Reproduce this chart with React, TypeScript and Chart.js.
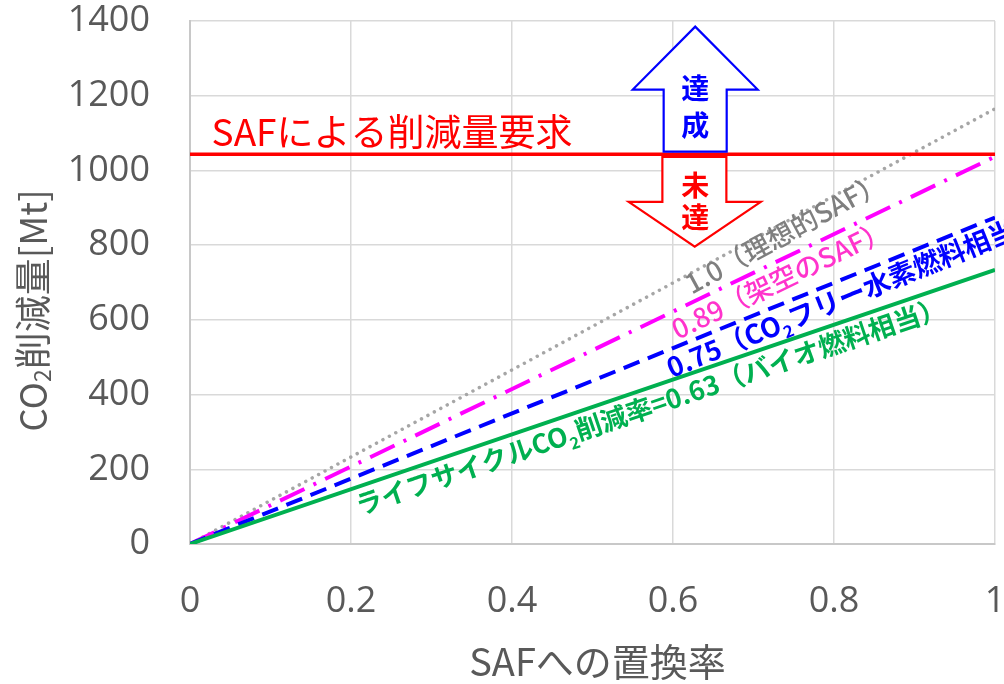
import React, { useEffect, useRef } from "react";
import { Chart, registerables } from "chart.js";

Chart.register(...registerables);

// ---- data ----
const xValues = [0, 1];
const idealSAF = [0, 1165]; // 1.0 (理想的SAF)
const fictionalSAF = [0, 1037]; // 0.89 (架空のSAF)
const hydrogenFuel = [0, 874]; // 0.75 (CO2フリー水素燃料相当)
const bioFuel = [0, 734]; // 0.63 (バイオ燃料相当)
const requirement = [1043, 1043]; // SAFによる削減量要求
const xTicks = [0, 0.2, 0.4, 0.6, 0.8, 1];
const xTickLabels = ["0", "0.2", "0.4", "0.6", "0.8", "1"];
const yTicks = [0, 200, 400, 600, 800, 1000, 1200, 1400];
const yTickLabels = ["0", "200", "400", "600", "800", "1000", "1200", "1400"];

const X_TITLE = "SAFへの置換率";
const Y_TITLE = [{ t: "CO" }, { t: "2", sub: true }, { t: "削減量[Mt]" }];
const REQ_LABEL = "SAFによる削減量要求";

// annotation geometry in data units
const upArrow = [
  [0.6276, 1385], [0.7052, 1216.5], [0.6667, 1216.5], [0.6667, 1050.6],
  [0.5884, 1050.6], [0.5884, 1216.5], [0.55, 1216.5],
];
const downArrow = [
  [0.5868, 1036], [0.6663, 1036], [0.6663, 916], [0.709, 916],
  [0.627, 796], [0.545, 916], [0.5868, 916],
];

const CJK = "'Noto Sans CJK JP', 'Noto Sans', sans-serif";
const NUM = "'Open Sans', 'Noto Sans CJK JP', sans-serif";
const AXIS_COLOR = "#595959";

type Seg = { t: string; sub?: boolean };

function drawRich(
  ctx: CanvasRenderingContext2D,
  segs: Seg[],
  x: number,
  y: number,
  size: number,
  weight: string,
  color: string,
  align: "left" | "center"
) {
  const fontFor = (s: Seg) => `${weight} ${s.sub ? size * 0.62 : size}px ${CJK}`;
  let total = 0;
  for (const s of segs) {
    ctx.font = fontFor(s);
    total += ctx.measureText(s.t).width;
  }
  let cx = align === "center" ? x - total / 2 : x;
  ctx.fillStyle = color;
  ctx.textAlign = "left";
  for (const s of segs) {
    ctx.font = fontFor(s);
    ctx.fillText(s.t, cx, y + (s.sub ? size * 0.24 : 0));
    cx += ctx.measureText(s.t).width;
  }
}

const lineLabels = [
  { segs: [{ t: "1.0（理想的SAF）" }], series: idealSAF, at: [0.6232, 667], color: "#7f7f7f", weight: "500", size: 27 },
  { segs: [{ t: "0.89（架空のSAF）" }], series: fictionalSAF, at: [0.6058, 546], color: "#ff33cc", weight: "500", size: 27 },
  {
    segs: [{ t: "0.75（CO" }, { t: "2", sub: true }, { t: "フリー水素燃料相当）" }],
    series: hydrogenFuel, at: [0.5983, 444], color: "#0000ff", weight: "bold", size: 27,
  },
  {
    segs: [{ t: "ライフサイクルCO" }, { t: "2", sub: true }, { t: "削減率=0.63（バイオ燃料相当）" }],
    series: bioFuel, at: [0.2108, 76], color: "#00b050", weight: "bold", size: 26.5,
  },
];

const annotationPlugin = {
  id: "annotations",
  afterDatasetsDraw(chart: any) {
    const ctx: CanvasRenderingContext2D = chart.ctx;
    const xs = chart.scales.x;
    const ys = chart.scales.y;
    const px = (v: number) => xs.getPixelForValue(v);
    const py = (v: number) => ys.getPixelForValue(v);

    ctx.save();
    const poly = (pts: number[][], color: string) => {
      ctx.beginPath();
      pts.forEach((p, i) => (i === 0 ? ctx.moveTo(px(p[0]), py(p[1])) : ctx.lineTo(px(p[0]), py(p[1]))));
      ctx.closePath();
      ctx.fillStyle = "#ffffff";
      ctx.fill();
      ctx.lineWidth = 2.2;
      ctx.lineJoin = "miter";
      ctx.strokeStyle = color;
      ctx.stroke();
    };
    poly(upArrow, "#0000ff");
    poly(downArrow, "#ff0000");

    ctx.textBaseline = "middle";
    ctx.textAlign = "center";
    ctx.font = `bold 28px ${CJK}`;
    ctx.fillStyle = "#0000ff";
    ctx.fillText("達", px(0.6276), py(1220));
    ctx.fillText("成", px(0.6276), py(1121));
    ctx.fillStyle = "#ff0000";
    ctx.fillText("未", px(0.6276), py(961));
    ctx.fillText("達", px(0.6276), py(875));

    ctx.textBaseline = "alphabetic";
    ctx.textAlign = "left";
    ctx.font = `normal 37px ${CJK}`;
    ctx.fillStyle = "#ff0000";
    ctx.fillText(REQ_LABEL, px(0.0268), py(1065));

    for (const l of lineLabels) {
      const ang = Math.atan2(py(l.series[1]) - py(l.series[0]), px(xValues[1]) - px(xValues[0]));
      ctx.save();
      ctx.translate(px(l.at[0]), py(l.at[1]));
      ctx.rotate(ang);
      ctx.textBaseline = "alphabetic";
      drawRich(ctx, l.segs, 0, 0, l.size, l.weight, l.color, "left");
      ctx.restore();
    }
    ctx.restore();
  },
  afterDraw(chart: any) {
    const ctx: CanvasRenderingContext2D = chart.ctx;
    const area = chart.chartArea;
    ctx.save();
    ctx.textBaseline = "middle";
    ctx.textAlign = "center";
    ctx.font = `normal 38px ${CJK}`;
    ctx.fillStyle = AXIS_COLOR;
    ctx.fillText(X_TITLE, (area.left + area.right) / 2 + 5, area.bottom + 118);
    ctx.translate(33, (area.top + area.bottom) / 2 + 28);
    ctx.rotate(-Math.PI / 2);
    drawRich(ctx, Y_TITLE, 0, 0, 37, "normal", AXIS_COLOR, "center");
    ctx.restore();
  },
};

export default function App() {
  const ref = useRef<HTMLCanvasElement | null>(null);
  useEffect(() => {
    if (!ref.current) return;
    const pts = (arr: number[]) => xValues.map((x, i) => ({ x, y: arr[i] }));
    const chart = new Chart(ref.current, {
      type: "line",
      data: {
        datasets: [
          { label: "要求", data: pts(requirement), borderColor: "#ff0000", borderWidth: 3.5, pointRadius: 0 },
          { label: "0.63", data: pts(bioFuel), borderColor: "#00b050", borderWidth: 4, pointRadius: 0 },
          { label: "0.75", data: pts(hydrogenFuel), borderColor: "#0000ff", borderWidth: 4, borderDash: [17, 9], pointRadius: 0 },
          { label: "0.89", data: pts(fictionalSAF), borderColor: "#ff00ff", borderWidth: 4, borderDash: [27, 10, 3, 10], pointRadius: 0 },
          {
            label: "1.0", data: pts(idealSAF), borderColor: "#a6a6a6", borderWidth: 3.5,
            borderDash: [0.01, 7.3], borderCapStyle: "round", pointRadius: 0,
          },
        ],
      },
      options: {
        animation: false,
        responsive: true,
        maintainAspectRatio: false,
        layout: { padding: { top: 21, right: 9, left: 0, bottom: 0 } },
        plugins: { legend: { display: false }, tooltip: { enabled: false } },
        scales: {
          x: {
            type: "linear",
            min: 0,
            max: 1,
            afterBuildTicks: (s: any) => {
              s.ticks = xTicks.map((v) => ({ value: v }));
            },
            afterFit: (s: any) => {
              s.height = 140;
              s.paddingLeft = 0;
              s.paddingRight = 0;
              s.paddingTop = 0;
              s.paddingBottom = 0;
            },
            ticks: {
              padding: 36,
              color: AXIS_COLOR,
              font: { family: NUM, size: 36 },
              callback: (v: any) => xTickLabels[xTicks.indexOf(Number(v))] ?? "",
              maxRotation: 0,
            },
            grid: { color: "#d9d9d9", lineWidth: 1.5, drawTicks: false },
            border: { color: "#c8c8c8", width: 2 },
          },
          y: {
            type: "linear",
            min: 0,
            max: 1400,
            afterBuildTicks: (s: any) => {
              s.ticks = yTicks.map((v) => ({ value: v }));
            },
            afterFit: (s: any) => {
              s.width = 190;
              s.paddingLeft = 0;
              s.paddingRight = 0;
              s.paddingTop = 0;
              s.paddingBottom = 0;
            },
            ticks: {
              padding: 40,
              color: AXIS_COLOR,
              font: { family: NUM, size: 36 },
              callback: (v: any) => yTickLabels[yTicks.indexOf(Number(v))] ?? "",
            },
            grid: { color: "#d9d9d9", lineWidth: 1.5, drawTicks: false },
            border: { color: "#c8c8c8", width: 2 },
          },
        },
      },
      plugins: [annotationPlugin],
    } as any);
    return () => chart.destroy();
  }, []);
  return (
    <div style={{ position: "fixed", left: 0, top: 0, width: 1004, height: 684, background: "#fff" }}>
      <canvas ref={ref} />
    </div>
  );
}
